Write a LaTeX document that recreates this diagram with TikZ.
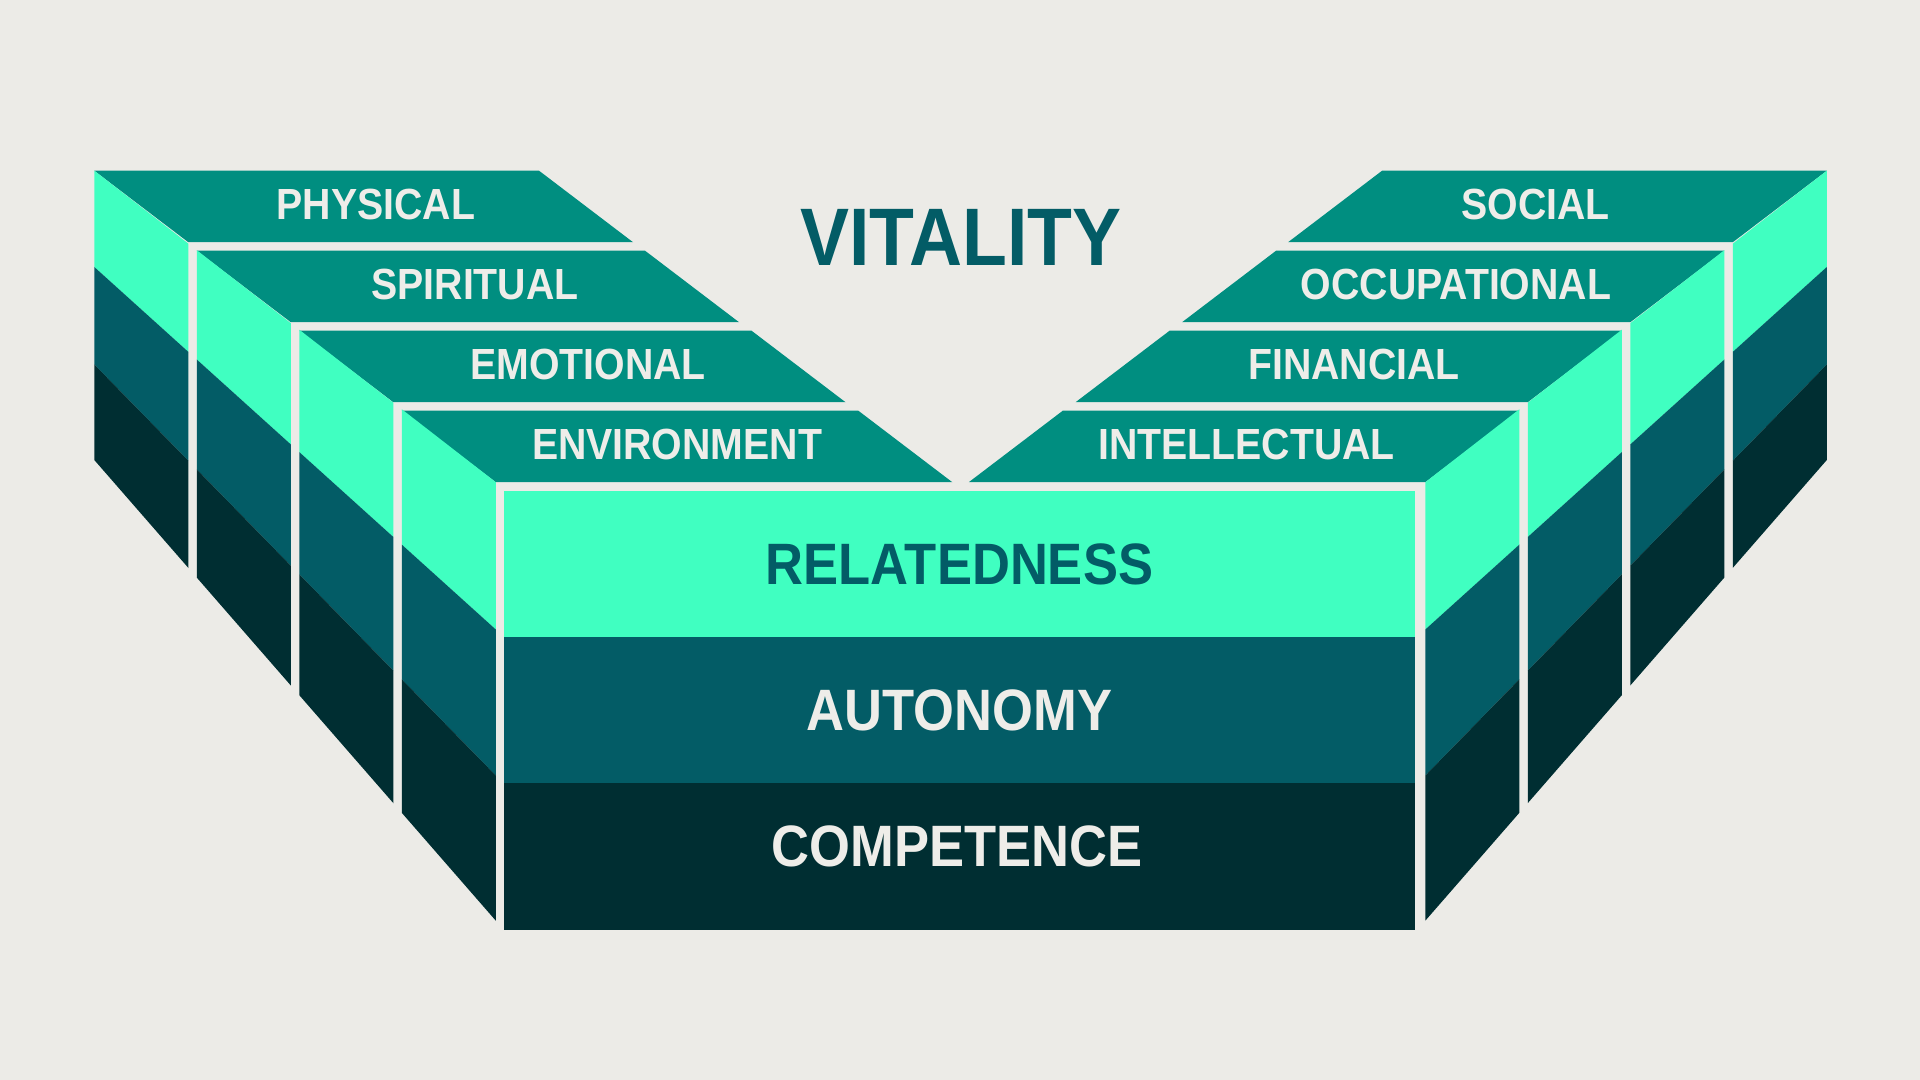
\documentclass[tikz,border=0pt]{standalone}
\usepackage{fontspec}
\setmainfont{Liberation Sans}[FakeStretch=0.9]
\usepackage{tikz}

\definecolor{bgcol}{RGB}{236,235,231}
\definecolor{topteal}{RGB}{0,142,128}
\definecolor{mint}{RGB}{64,255,193}
\definecolor{midteal}{RGB}{3,92,102}
\definecolor{deepteal}{RGB}{0,46,50}
\definecolor{paper}{RGB}{238,237,233}

% side of one half, cut in three bands
\newcommand{\sidebands}{%
  \fill[mint] (94.3,170.7) -- (495.8,482.2) -- (495.8,629.5) -- (94.3,267) -- cycle;
  \fill[midteal] (94.3,267) -- (495.8,629.5) -- (495.8,775.5) -- (94.3,364.5) -- cycle;
  \fill[deepteal] (94.3,364.5) -- (495.8,775.5) -- (495.8,920.7) -- (94.3,460) -- cycle;}

% four stepped blocks of one half
\newcommand{\halfblocks}{%
  \foreach \bx/\by/\rx in {94.3/170.7/539,196.8/250.7/645,299.3/330.7/751.5,401.8/410.7/858.3}{
    \fill[topteal] (\bx,\by) -- (\rx,\by) -- ++(94,71.5) -- (\bx+94,\by+71.5) -- cycle;
    \begin{scope}
      \clip (\bx,0) rectangle (\bx+94,1080);
      \sidebands
    \end{scope}
  }}

\begin{document}
\begin{tikzpicture}[x=0.01cm,y=-0.01cm,
  toplbl/.style={anchor=base,inner sep=0pt,text=paper,font=\fontsize{12.4}{13}\selectfont\bfseries},
  band/.style={minimum width=9.11cm,minimum height=1.46cm,inner sep=0pt,
    font=\fontsize{16.6}{17}\selectfont\bfseries,text=paper}]
\fill[bgcol] (0,0) rectangle (1920,1080);
\useasboundingbox (0,0) rectangle (1920,1080);

\halfblocks
\begin{scope}[xshift=19.2cm,xscale=-1]
\halfblocks
\end{scope}

% front face
\node[band,fill=mint,text=midteal] (relatedness) at (959.5,564.5) {RELATEDNESS};
\node[band,fill=midteal] (autonomy) at (959.5,710.5) {AUTONOMY};
\node[band,fill=deepteal] (competence) at (959.5,856.5) {};
\node[font=\fontsize{16.6}{17}\selectfont\bfseries,text=paper,inner sep=0pt]
  (competencetxt) at (957,846.5) {COMPETENCE};

% labels on the tops
\node[toplbl] (physical) at (376,219.5) {PHYSICAL};
\node[toplbl] (spiritual) at (475,299.5) {SPIRITUAL};
\node[toplbl] (emotional) at (588,379.5) {EMOTIONAL};
\node[toplbl] (environment) at (677,459.5) {ENVIRONMENT};
\node[toplbl] (social) at (1535.5,219.5) {SOCIAL};
\node[toplbl] (occupational) at (1456,299.5) {OCCUPATIONAL};
\node[toplbl] (financial) at (1354,379.5) {FINANCIAL};
\node[toplbl] (intellectual) at (1246.5,459.5) {INTELLECTUAL};

\node[anchor=base,inner sep=0pt,text=midteal,font=\fontsize{23.2}{24}\selectfont\bfseries]
  (vitality) at (961,265.7) {VITALITY};
\end{tikzpicture}
\end{document}
